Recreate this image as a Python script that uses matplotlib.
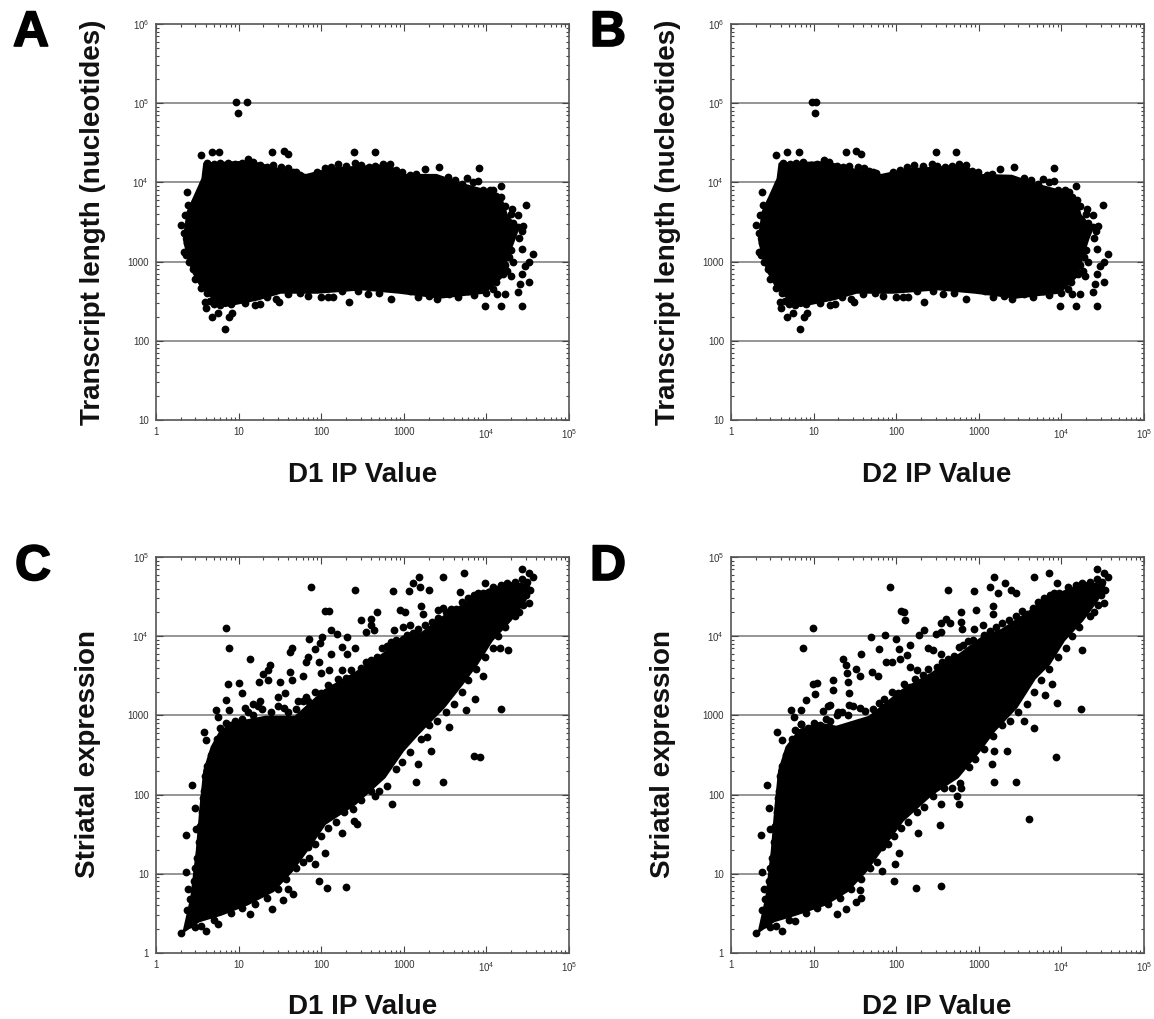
import matplotlib
matplotlib.use("Agg")
import matplotlib.pyplot as plt
import matplotlib.patheffects as pe
from matplotlib.ticker import LogLocator, NullFormatter

W, H = 1154, 1019

plt.rcParams["font.family"] = ["Liberation Sans", "DejaVu Sans"]
plt.rcParams["mathtext.default"] = "regular"

# -----------------------------
# Panel A: dense cloud outline, its edge points, separate points
# -----------------------------
a_cloud_x = [3.87, 14.1, 48.7, 66, 137, 645, 977, 2470, 5650, 9480, 15100, 17600, 24000, 21700,
             17600, 15800, 9480, 2740, 880, 313, 90.6, 32.2, 17.3, 6.84, 5.01, 3.49, 2.84, 2.43,
             2.19, 2.43, 2.99, 3.68]
a_cloud_y = [17200, 18100, 12900, 12300, 14900, 16400, 12300, 12300, 9160, 7920, 6210, 3820, 2590,
             1940, 1080, 665, 409, 354, 409, 451, 409, 409, 337, 277, 337, 497, 733, 1190, 1940,
             4210, 6840, 11100]
a_edge_x = [4.2, 5, 6, 7.5, 9, 11, 13, 15, 18, 22, 26, 33, 40, 45, 50, 55, 90, 110, 130, 160, 200,
            260, 300, 380, 450, 560, 680, 800, 950, 1200, 1400, 1700, 2100, 2800, 3400, 4200, 5000,
            5900, 6800, 8000, 9000, 11000, 12000, 10000, 13000, 15000, 17000, 20000, 17000, 21000,
            24000, 27000, 25000, 20000, 19000, 21000, 17000, 18000, 16000, 20000, 13000, 12000,
            10000, 7000, 6000, 4500, 3500, 2500, 2000, 1500, 1200, 700, 500, 370, 280, 180, 140,
            120, 100, 70, 55, 40, 28, 22, 18, 12, 8, 6, 5, 4.2, 3.5, 3, 2.8, 2.5, 2.3, 2.4, 2.2,
            2.5, 2.5, 2.8, 3, 3.4, 3.7, 4, 4.1]
a_edge_y = [17500, 17000, 17500, 17800, 17000, 17500, 19500, 18000, 16500, 15800, 16500, 15500,
            15000, 13500, 13500, 12500, 13500, 15000, 15500, 17000, 16000, 17500, 16500, 15500,
            16000, 17000, 17000, 14500, 13500, 12500, 12800, 10500, 10800, 10500, 11800, 10800,
            9500, 11500, 10000, 10500, 8000, 8000, 8000, 7000, 6800, 6500, 5000, 4000, 3500, 3100,
            2700, 2400, 2000, 1400, 1150, 1000, 900, 750, 700, 650, 550, 450, 400, 380, 420, 360,
            390, 340, 370, 360, 420, 340, 400, 390, 430, 420, 360, 360, 360, 370, 400, 390, 340,
            360, 290, 300, 290, 280, 290, 400, 470, 600, 800, 1000, 1200, 1700, 2300, 3000, 3800,
            4800, 5800, 7500, 9500, 12000, 15000]
a_x = [9.3, 9.7, 12.7, 3.46, 4.8, 5.85, 25.4, 35, 39.6, 250, 444, 8100, 2650, 1800, 15000, 30500,
       28000, 20500, 23800, 1.98, 2.36, 2.43, 2.26, 2.2, 37000, 32600, 29000, 33000, 27000, 27000,
       25500, 23800, 27000, 15000, 9700, 13500, 17000, 220, 31, 15.6, 6.84, 4.8, 7.6, 8.4, 5.6,
       3.87, 4.5, 4.07]
a_y = [104000, 75000, 104000, 22400, 24200, 24200, 24000, 24700, 22900, 24200, 24000, 15200, 15700,
       14900, 8970, 5120, 2800, 4640, 3930, 2860, 7540, 5220, 3830, 1320, 1240, 980, 890, 560, 1440,
       700, 520, 410, 277, 277, 277, 390, 390, 310, 310, 285, 141, 198, 198, 226, 226, 310, 317, 256]

# -----------------------------
# Panel B
# -----------------------------
b_cloud_x = [3.9, 14.5, 46, 66, 140, 660, 1000, 2500, 5300, 9000, 14800, 17000, 23500, 21000,
             17500, 15500, 9400, 2800, 900, 320, 92, 33, 17.5, 6.9, 5.0, 3.5, 2.85, 2.43, 2.19,
             2.43, 3.0, 3.7]
b_cloud_y = [17200, 17800, 12900, 12300, 14500, 16000, 12300, 12000, 9160, 7920, 6210, 3820, 2590,
             1940, 1080, 665, 409, 354, 409, 451, 409, 409, 337, 277, 337, 497, 733, 1190, 1940,
             4210, 6840, 11100]
b_edge_x = [4.3, 5.2, 6.2, 7.4, 9.2, 11, 13.5, 15.5, 19, 23, 27, 34, 41, 47, 52, 57, 92, 112, 135,
            165, 210, 270, 310, 390, 470, 580, 700, 820, 980, 1250, 1450, 1750, 2200, 2900, 3500,
            4300, 5200, 6000, 7000, 8200, 9200, 11000, 12500, 10500, 13500, 15500, 17000, 20000,
            17500, 21000, 24000, 26000, 25000, 20000, 19000, 21000, 17000, 18500, 16000, 19500,
            13000, 12000, 10000, 7000, 6000, 4500, 3500, 2500, 2000, 1500, 1200, 700, 500, 370,
            280, 180, 140, 120, 100, 70, 55, 40, 28, 22, 18, 12, 8, 6, 5, 4.2, 3.5, 3, 2.8, 2.5,
            2.3, 2.4, 2.2, 2.5, 2.5, 2.8, 3, 3.4, 3.7, 4, 4.1]
b_edge_y = [17500, 17000, 17500, 18000, 16500, 17000, 19000, 18000, 16000, 15500, 16000, 15500,
            15000, 13800, 13500, 13000, 13500, 14500, 15500, 16500, 16000, 17000, 16000, 15500,
            16000, 17000, 16500, 14000, 13500, 12500, 12800, 10500, 10800, 10500, 11300, 10800,
            9500, 11000, 10000, 10500, 8000, 8000, 7500, 7000, 6500, 6000, 5000, 4000, 3500, 3100,
            2700, 2400, 2000, 1400, 1150, 1000, 900, 750, 700, 650, 550, 450, 400, 380, 420, 360,
            390, 340, 370, 360, 420, 340, 400, 390, 430, 420, 360, 360, 360, 370, 400, 390, 340,
            360, 290, 300, 290, 280, 290, 400, 470, 600, 800, 1000, 1200, 1700, 2300, 3000, 3800,
            4800, 5800, 7500, 9500, 12000, 15000]
b_x = [9.6, 10.4, 10.8, 3.46, 4.8, 6.6, 25, 33, 38, 300, 530, 8100, 2650, 1800, 15000, 31500,
       28000, 20500, 23800, 1.98, 2.36, 2.43, 2.26, 2.2, 37000, 32600, 29000, 33000, 27000, 27000,
       25500, 23800, 27000, 15000, 9700, 13500, 17000, 220, 31, 15.6, 6.84, 4.8, 7.6, 8.4, 5.6,
       3.87, 4.5, 4.07]
b_y = [104000, 75000, 104000, 22400, 24200, 24200, 24000, 24700, 22900, 24200, 24000, 15200, 15700,
       14900, 8970, 5120, 2800, 4640, 3930, 2860, 7540, 5220, 3830, 1320, 1240, 980, 890, 560, 1440,
       700, 520, 410, 277, 277, 277, 390, 390, 310, 310, 285, 141, 198, 198, 226, 226, 310, 317, 256]

# -----------------------------
# Panel C
# -----------------------------
c_cloud_x = [2.19, 2.7, 3.15, 3.49, 3.87, 4.76, 6.17, 10.3, 21.3, 48.7, 111, 255, 582, 975, 1640,
             3040, 5650, 10500, 19500, 32700, 29500, 19500, 11600, 7700, 5100, 3040, 1480, 975,
             582, 255, 111, 66, 44, 26.2, 12.7, 6.17, 3.32]
c_cloud_y = [1.9, 5, 19.5, 69, 201, 397, 646, 824, 953, 953, 2070, 3370, 6040, 9800, 10800, 17600,
             25900, 38200, 46400, 44300, 28600, 16000, 8900, 4510, 2520, 1270, 586, 361, 166, 76,
             43, 19.5, 10.9, 6.1, 4.13, 3.08, 2.54]
c_edge_x = [6, 7, 8, 9, 11, 13, 15, 17, 19, 25, 30, 35, 40, 50, 60, 70, 85, 100, 120, 140, 160, 200,
            230, 300, 350, 400, 480, 550, 620, 700, 800, 1100, 1300, 1500, 1800, 2200, 2600, 3200,
            3700, 4300, 5000, 6000, 7000, 8000, 9000, 12000, 15000, 18000, 22000, 27000, 31000,
            34000, 30000, 33000, 28000, 25000, 22000, 17000, 14000, 12000, 9500, 7500, 6000, 5000,
            4000, 3200, 2500, 2000, 1600, 1200, 950, 800, 620, 500, 400, 300, 240, 190, 150, 120,
            100, 85, 70, 60, 50, 38, 30, 22, 16, 11, 8, 5, 3.5, 3, 2.6, 2.4, 2.6, 2.9, 3, 3.1, 3.3,
            3.4, 3.6, 3.7, 3.8, 3.9, 4.2, 4.6, 5.3, 5.5]
c_edge_y = [700, 800, 760, 850, 900, 1100, 1000, 1300, 1200, 1100, 1300, 1250, 1100, 1200, 1500,
            1500, 2000, 1900, 2400, 2200, 2900, 3000, 3700, 4000, 4700, 5000, 5500, 7000, 7500,
            8500, 9000, 10500, 11000, 12500, 14000, 15000, 17000, 20000, 22000, 22000, 27000, 30000,
            33000, 35000, 35000, 42000, 44000, 47000, 48000, 52000, 48000, 38000, 33000, 26000,
            25000, 20000, 18000, 13000, 10000, 7000, 5500, 3800, 2800, 2000, 1400, 1100, 850, 750,
            500, 350, 260, 210, 130, 110, 110, 85, 65, 60, 45, 38, 30, 24, 22, 14, 12, 8.5, 6.5, 5,
            4.2, 3.7, 3.2, 2.6, 2.2, 2.1, 2.3, 3.5, 4.8, 8, 12, 16, 25, 40, 60, 90, 110, 170, 230,
            320, 400, 500]
c_x = [6.97, 7.7, 13.8, 7.4, 10.1, 7, 11.1, 5.4, 7.6, 5.7, 3.76, 4.07, 2.7, 2.31, 2.31, 2.43, 2.93,
       3.05, 1.98, 75, 260, 740, 1150, 1520, 3000, 5300, 1300, 1560, 2000, 4850, 9500, 27000,
       32600, 37000, 110, 126, 475, 900, 1030, 1600, 1700, 2600, 3000, 305, 405, 405, 130, 350,
       435, 103, 72, 760, 975, 1200, 155, 207, 42, 44, 83, 98, 130, 70, 66, 95, 24, 23, 42, 20,
       17.7, 22.5, 32, 44, 60, 100, 126, 178, 207, 178, 255, 15000, 7000, 8400, 3000, 1400, 1480,
       720, 2130, 1900, 3550, 18500, 14500, 7300, 5600, 9000, 270, 250, 181, 110, 85, 93, 118,
       200, 72, 45, 40, 34, 25.6, 13.8, 5.7, 4.07, 450, 12, 15, 18, 30, 36, 52, 65]
c_y = [12800, 7000, 5170, 2520, 2570, 1550, 1930, 1180, 1180, 950, 620, 490, 134, 31, 10.5, 6.5,
       67, 37, 1.8, 41300, 38600, 36800, 36800, 56500, 56500, 62000, 46400, 42000, 38000, 35700,
       46400, 70000, 63000, 56500, 20700, 20700, 20300, 21700, 20300, 24000, 18800, 21400, 23000,
       15900, 16700, 13800, 12100, 11300, 12000, 9800, 9300, 12100, 13100, 13800, 10800, 9800,
       6300, 7000, 6800, 8100, 5900, 5500, 4700, 4700, 4300, 3700, 3500, 3300, 2650, 2800, 2650,
       2800, 3100, 3400, 3700, 3700, 6000, 7300, 7000, 1200, 305, 300, 145, 145, 245, 75, 360, 530,
       710, 6650, 7000, 1620, 1160, 3100, 42, 47, 33, 18.3, 13.4, 8.1, 6.7, 6.9, 16, 5.5, 6.5, 4.7,
       3.6, 3.1, 2.3, 1.9, 96, 1250, 1400, 1500, 1700, 1900, 1500, 1700]

# -----------------------------
# Panel D
# -----------------------------
d_cloud_x = [2.2, 2.7, 3.15, 3.48, 3.86, 4.74, 6.78, 11.3, 18.9, 47.4, 119, 270, 612, 1130, 1890,
             3860, 6440, 11900, 19900, 33100, 27000, 17900, 10700, 7130, 4740, 2840, 1540, 1020,
             552, 270, 119, 64, 43, 25.6, 13.9, 6.1, 3.31]
d_cloud_y = [1.9, 5, 19.5, 69, 201, 397, 646, 785, 712, 953, 2070, 3370, 6040, 9800, 11900, 19400,
             28600, 38200, 46400, 44300, 28600, 16000, 8900, 4510, 2940, 1270, 646, 361, 166, 102,
             47, 19.5, 10.9, 6.1, 4.13, 3.08, 2.54]
d_edge_x = [6, 7, 8.5, 10, 12, 14, 16, 19, 22, 26, 30, 36, 42, 52, 62, 72, 88, 105, 125, 145, 170,
            210, 240, 310, 360, 420, 500, 570, 650, 730, 850, 1150, 1350, 1600, 1900, 2300, 2800,
            3300, 3800, 4500, 5200, 6200, 7200, 8200, 9300, 12000, 15000, 18000, 22000, 27000,
            31000, 34000, 30000, 33000, 28000, 25000, 22000, 16500, 13500, 11500, 9000, 7000, 5700,
            4700, 3800, 3000, 2400, 1900, 1500, 1150, 900, 760, 600, 480, 380, 280, 220, 180, 140,
            115, 95, 80, 68, 58, 48, 37, 28, 21, 15, 11, 8, 5, 3.5, 3, 2.6, 2.4, 2.6, 2.9, 3, 3.1,
            3.3, 3.4, 3.6, 3.7, 3.8, 3.9, 4.2, 4.6, 5.3, 5.5]
d_edge_y = [650, 780, 700, 800, 750, 900, 850, 1000, 1100, 1000, 1300, 1250, 1150, 1200, 1450,
            1600, 2000, 1900, 2500, 2300, 2900, 3200, 3800, 4100, 4700, 5100, 5600, 7200, 7700,
            8600, 9000, 10500, 11500, 13000, 14500, 16000, 18000, 21000, 19000, 23000, 27000, 30000,
            33000, 35000, 35000, 42000, 44000, 47000, 48000, 52000, 48000, 38000, 33000, 26000,
            25000, 20000, 18000, 13000, 10000, 7000, 5500, 3800, 2800, 2000, 1400, 1100, 850, 750,
            550, 380, 280, 220, 140, 120, 120, 95, 70, 60, 45, 38, 30, 24, 22, 14, 12, 8.5, 6.5, 5,
            4.2, 3.7, 3.2, 2.6, 2.2, 2.1, 2.3, 3.5, 4.8, 8, 12, 16, 25, 40, 60, 90, 110, 170, 230,
            320, 400, 500]
d_x = [9.7, 7.5, 23, 24.4, 25.7, 9.7, 11, 10.5, 8.1, 5.4, 7.1, 5.8, 7, 3.6, 4.2, 2.75, 2.3, 2.35,
       2.5, 2.9, 3, 2, 83, 420, 880, 1530, 4600, 7100, 1360, 2050, 1700, 2450, 2800, 8800, 27000,
       32600, 37000, 113, 125, 128, 610, 920, 1500, 1500, 400, 350, 450, 610, 630, 215, 190, 300,
       350, 49, 73, 99, 880, 1130, 37, 62, 108, 145, 136, 75, 90, 110, 33, 26, 17, 17.3, 27, 27,
       16, 36, 51, 61, 145, 180, 245, 282, 350, 17500, 8500, 2800, 1530, 1450, 4100, 2200, 1530,
       8800, 4600, 3500, 18000, 7700, 6400, 570, 545, 610, 350, 340, 182, 108, 96, 93, 174, 350,
       68, 36, 37, 33, 25, 19, 5.9, 4.2, 13, 15, 20]
d_y = [12800, 7000, 5200, 4300, 3400, 2520, 2570, 1850, 1550, 1180, 1160, 950, 770, 620, 490, 134,
       31, 10.5, 6.5, 67, 37, 1.8, 41300, 38600, 36700, 56500, 56500, 62000, 42000, 46400, 35000,
       38000, 35000, 46400, 70000, 63000, 56500, 20700, 20300, 15900, 20300, 21500, 24000, 19000,
       16700, 14800, 14500, 15000, 12500, 12100, 10300, 10800, 11300, 9700, 10500, 9300, 12500,
       13800, 6000, 6800, 6800, 7800, 5800, 4700, 4700, 5200, 3900, 2650, 2800, 2100, 1900, 1350,
       1350, 3100, 3500, 3100, 4100, 3700, 7000, 6600, 6000, 1200, 300, 145, 145, 245, 49, 360, 360,
       1450, 700, 860, 6650, 2520, 1800, 75, 95, 120, 77, 41, 33, 18.5, 13.4, 8, 6.7, 7, 11, 6.3,
       5, 4.4, 3.6, 3.1, 2.5, 1.9, 1150, 1300, 1100]

# ticks
x_ticks = [1, 10, 100, 1000, 1e4, 1e5]
x_labels = ["1", "10", "100", "1000", "$10^4$", "$10^5$"]
y_ticks_top = [10, 100, 1000, 1e4, 1e5, 1e6]
y_labels_top = ["10", "100", "1000", "$10^4$", "$10^5$", "$10^6$"]
y_labels_bottom = ["1"] + y_labels_top[:-1]
y_ticks_bottom = [1] + y_ticks_top[:-1]


def draw_panel(box, cloud_x, cloud_y, edge_x, edge_y, xs, ys, ylim, yticks, ylabels):
    left, top, right, bottom = box
    ax = fig.add_axes([left / W, 1 - bottom / H, (right - left) / W, (bottom - top) / H])
    ax.set_xscale("log")
    ax.set_yscale("log")
    ax.set_xlim(1, 1e5)
    ax.set_ylim(*ylim)

    for tick in yticks[1:-1]:
        ax.axhline(tick, color="#8c8c8c", linewidth=1.3, zorder=1)

    ax.fill(cloud_x, cloud_y, color="black", linewidth=2, joinstyle="round", zorder=2)
    ax.plot(edge_x, edge_y, "o", color="black", markersize=5.6, markeredgewidth=0, zorder=3)
    ax.plot(xs, ys, "o", color="black", markersize=5.6, markeredgewidth=0, zorder=3)

    ax.set_xticks(x_ticks)
    ax.set_xticklabels(x_labels)
    ax.set_yticks(yticks)
    ax.set_yticklabels(ylabels)
    ax.xaxis.set_minor_locator(LogLocator(10, subs=range(2, 10), numticks=12))
    ax.yaxis.set_minor_locator(LogLocator(10, subs=range(2, 10), numticks=12))
    ax.xaxis.set_minor_formatter(NullFormatter())
    ax.yaxis.set_minor_formatter(NullFormatter())
    ax.tick_params(which="major", direction="in", top=True, right=True, length=5, width=0.8,
                   color="#444444", labelsize=7, labelcolor="#333333", pad=5)
    ax.tick_params(which="minor", direction="in", top=True, right=True, length=2.5, width=0.8,
                   color="#444444")
    for spine in ax.spines.values():
        spine.set_color("#555555")
        spine.set_linewidth(1.2)
    return ax


fig = plt.figure(figsize=(W / 100, H / 100), dpi=100)

draw_panel((156, 24, 569, 420), a_cloud_x, a_cloud_y, a_edge_x, a_edge_y, a_x, a_y,
           (10, 1e6), y_ticks_top, y_labels_top)
draw_panel((731, 24, 1144, 420), b_cloud_x, b_cloud_y, b_edge_x, b_edge_y, b_x, b_y,
           (10, 1e6), y_ticks_top, y_labels_top)
draw_panel((156, 557, 569, 953), c_cloud_x, c_cloud_y, c_edge_x, c_edge_y, c_x, c_y,
           (1, 1e5), y_ticks_bottom, y_labels_bottom)
draw_panel((731, 557, 1144, 953), d_cloud_x, d_cloud_y, d_edge_x, d_edge_y, d_x, d_y,
           (1, 1e5), y_ticks_bottom, y_labels_bottom)

label_style = dict(fontsize=20, fontweight="bold", ha="center", va="center", color="#111111")
fig.text(363 / W, 1 - 475 / H, "D1 IP Value", **label_style)
fig.text(937 / W, 1 - 475 / H, "D2 IP Value", **label_style)
fig.text(363 / W, 1 - 1007 / H, "D1 IP Value", **label_style)
fig.text(937 / W, 1 - 1007 / H, "D2 IP Value", **label_style)

fig.text(93 / W, 1 - 222 / H, "Transcript length (nucleotides)", rotation=90, **label_style)
fig.text(668 / W, 1 - 222 / H, "Transcript length (nucleotides)", rotation=90, **label_style)
fig.text(88 / W, 1 - 754 / H, "Striatal expression", rotation=90, **label_style)
fig.text(663 / W, 1 - 754 / H, "Striatal expression", rotation=90, **label_style)

letter_style = dict(fontsize=36, fontweight="bold", ha="center", va="center", color="black",
                    path_effects=[pe.withStroke(linewidth=1.2, foreground="black")])
fig.text(31 / W, 1 - 33 / H, "A", **letter_style)
fig.text(608 / W, 1 - 33 / H, "B", **letter_style)
fig.text(33 / W, 1 - 567 / H, "C", **letter_style)
fig.text(608 / W, 1 - 567 / H, "D", **letter_style)

fig.savefig("out.png", dpi=100)
